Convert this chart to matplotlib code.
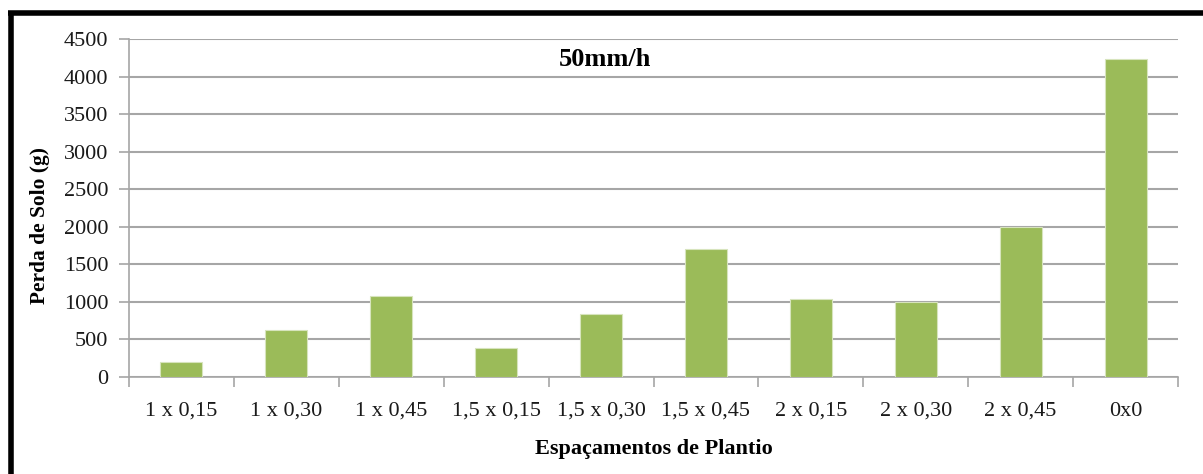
import matplotlib
matplotlib.use("Agg")
import matplotlib.pyplot as plt
import numpy as np

categories = ["1 x 0,15", "1 x 0,30", "1 x 0,45", "1,5 x 0,15", "1,5 x 0,30",
              "1,5 x 0,45", "2 x 0,15", "2 x 0,30", "2 x 0,45", "0x0"]
values = [200, 630, 1085, 390, 840, 1700, 1045, 1000, 1995, 4230]
yticks = [0, 500, 1000, 1500, 2000, 2500, 3000, 3500, 4000, 4500]

plt.rcParams['font.family'] = ['Liberation Serif', 'DejaVu Serif']

fig = plt.figure(figsize=(12.03, 4.74), dpi=100)
ax = fig.add_axes([129/1203, 1-377/474, (1178-129)/1203, (377-39)/474])

x = np.arange(len(categories))
ax.bar(x, values, width=0.4, color='#9BBB59', edgecolor='#D7E4BD', linewidth=0.8, zorder=3)

ax.set_xlim(-0.5, len(categories)-0.5)
ax.set_ylim(0, 4500)
ax.set_yticks(yticks)
ax.set_yticklabels([str(v) for v in yticks], fontsize=16, color='#1a1a1a')
ax.yaxis.grid(True, color='#A6A6A6', linewidth=1.5, zorder=0)
ax.set_axisbelow(True)

ax.set_xticks(x)
ax.set_xticklabels(categories, fontsize=16, color='#1a1a1a')
ax.set_xticks(np.arange(-0.5, len(categories)), minor=True)
ax.tick_params(axis='x', which='major', length=0, pad=18)
ax.tick_params(axis='x', which='minor', length=7, color='#A6A6A6', width=1.2)
ax.tick_params(axis='y', length=7, color='#A6A6A6', width=1.2, pad=8)

for s in ['top', 'right']:
    ax.spines[s].set_visible(False)
for s in ['left', 'bottom']:
    ax.spines[s].set_color('#A6A6A6')
    ax.spines[s].set_linewidth(1.2)

ax.set_xlabel("Espaçamentos de Plantio", fontsize=16, fontweight='bold', va='center')
ax.set_ylabel("Perda de Solo (g)", fontsize=15.4, fontweight='bold', va='center')
ax.xaxis.set_label_coords(0.5, (377-449)/338)
ax.yaxis.set_label_coords((40-129)/1049, (377-225)/338)

fig.text(605/1203, 1-60/474, "50mm/h", fontsize=19, fontweight='bold', ha='center', va='center')

# frame (top and left border)
fig.add_artist(plt.Line2D([8/1203, 1], [1-12.5/474, 1-12.5/474], transform=fig.transFigure,
                          color='black', linewidth=4, solid_capstyle='butt'))
fig.add_artist(plt.Line2D([10.5/1203, 10.5/1203], [0, 1-10.5/474], transform=fig.transFigure,
                          color='black', linewidth=4, solid_capstyle='butt'))

fig.savefig("out.png", dpi=100)
